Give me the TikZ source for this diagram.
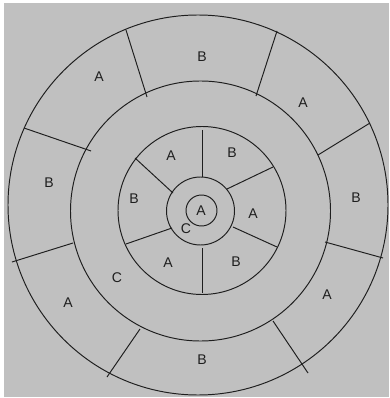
\documentclass[tikz,border=0pt]{standalone}
\usepackage{fontspec}
\setmainfont{Liberation Sans}
\definecolor{panel}{RGB}{192,192,192}
\definecolor{ink}{RGB}{30,30,30}

\begin{document}
\begin{tikzpicture}[
  x=0.02cm, y=-0.02cm,
  every node/.style={font=\fontsize{8}{9}\selectfont, text=ink, inner sep=0pt},
  ring/.style={draw=ink, line width=0.55pt},
  spoke/.style={draw=ink, line width=0.55pt}
]
% Canvas
\fill[white] (0,0) rectangle (389,398);
\fill[panel] (4,3) rectangle (389,397);
\useasboundingbox (0,0) rectangle (389,398);

% Rings
\draw[ring] (198,205) circle[radius=190];
\draw[ring] (200.5,211) circle[radius=130];
\draw[ring] (202,210.5) circle[radius=84];
\draw[ring] (200.5,211) circle[radius=34];
\draw[ring] (201.5,210.5) circle[radius=15.5];

% Outer spokes
\foreach \xa/\ya/\xb/\yb in {126/30/147/97, 277/31/256/96, 370/123/318/155,
    383/258/325/242, 308/373/273/321, 107/377/140/329, 12/262/73/243, 24/128/91/151}
  \draw[spoke] (\xa,\ya) -- (\xb,\yb);

% Inner spokes
\foreach \xa/\ya/\xb/\yb in {202/130/202/177, 273/167/227/189, 277/247/233/227,
    202/293/202/248, 126/244/172/228, 135/158/173/193}
  \draw[spoke] (\xa,\ya) -- (\xb,\yb);

% Outer labels
\node (oB1) at (202,57) {B};
\node (oA1) at (303,103) {A};
\node (oB2) at (356,198) {B};
\node (oA2) at (327,295) {A};
\node (oB3) at (202,360) {B};
\node (oA3) at (68,303) {A};
\node (oB4) at (49,183) {B};
\node (oA4) at (99,77) {A};
\node (mC) at (117,278) {C};

% Inner labels
\node (iA1) at (171,156) {A};
\node (iB1) at (232,153) {B};
\node (iA2) at (253,214) {A};
\node (iB2) at (236,262) {B};
\node (iA3) at (168,263) {A};
\node (iB3) at (134,199) {B};

% Centre
\node (cA) at (201,211) {A};
\node (cC) at (186,229) {C};
\end{tikzpicture}
\end{document}
